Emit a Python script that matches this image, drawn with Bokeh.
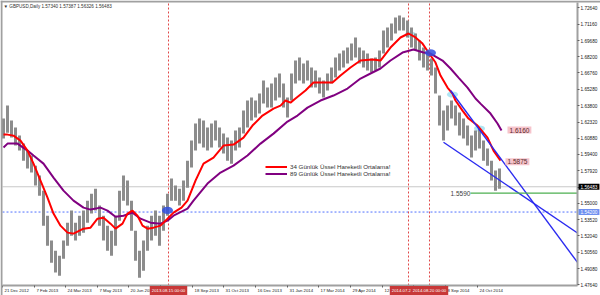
import numpy as np
from bokeh.plotting import figure
from bokeh.models import (Range1d, FixedTicker, PrintfTickFormatter, Span, Label,
                          Legend, LegendItem, LinearAxis)
from bokeh.core.properties import value
from bokeh.embed import file_html
from bokeh.resources import INLINE

FONT = "Liberation Sans"

# ---------------- data ----------------
# sampled price bars, every 4 trading days; bar index 0 = 21 Dec 2012
bar_high = [1.6264, 1.6381, 1.6246, 1.6183, 1.6110, 1.6038, 1.5975, 1.5930, 1.5839, 1.5749,
            1.5613, 1.5387, 1.5162, 1.5071, 1.5026, 1.5162, 1.5324, 1.5433, 1.5324, 1.5387,
            1.5433, 1.5523, 1.5586, 1.5631, 1.5478, 1.5387, 1.5297, 1.5252, 1.5387, 1.5613,
            1.5749, 1.5704, 1.5523, 1.5252, 1.5071, 1.5162, 1.5297, 1.5387, 1.5433, 1.5387,
            1.5478, 1.5586, 1.5722, 1.5659, 1.5631, 1.5704, 1.5884, 1.6065, 1.6219, 1.6264,
            1.6246, 1.6183, 1.6219, 1.6246, 1.6183, 1.6128, 1.6092, 1.6065, 1.6156, 1.6183,
            1.6336, 1.6427, 1.6454, 1.6427, 1.6490, 1.6607, 1.6544, 1.6580, 1.6634, 1.6670,
            1.6580, 1.6454, 1.6670, 1.6788, 1.6815, 1.6761, 1.6788, 1.6725, 1.6698, 1.6634,
            1.6607, 1.6670, 1.6725, 1.6815, 1.6851, 1.6878, 1.6905, 1.6941, 1.6996, 1.6905,
            1.6878, 1.6851, 1.6806, 1.6815, 1.6878, 1.7059, 1.7086, 1.7122, 1.7176, 1.7194,
            1.7176, 1.7149, 1.7086, 1.7032, 1.6969, 1.6905, 1.6851, 1.6806, 1.6725, 1.6472,
            1.6336, 1.6381, 1.6427, 1.6381, 1.6318, 1.6264, 1.6201, 1.6110, 1.6156, 1.6174,
            1.6065, 1.5993, 1.5884, 1.5794, 1.5812]
bar_low = [1.6083, 1.6137, 1.6092, 1.6020, 1.5975, 1.5884, 1.5812, 1.5776, 1.5659, 1.5568,
           1.5297, 1.5116, 1.4963, 1.4873, 1.4845, 1.4999, 1.5116, 1.5207, 1.5162, 1.5207,
           1.5234, 1.5324, 1.5406, 1.5433, 1.5297, 1.5162, 1.5071, 1.5026, 1.5116, 1.5342,
           1.5523, 1.5478, 1.5252, 1.4981, 1.4827, 1.4891, 1.5071, 1.5162, 1.5207, 1.5116,
           1.5252, 1.5387, 1.5523, 1.5523, 1.5478, 1.5523, 1.5640, 1.5821, 1.5975, 1.6038,
           1.6002, 1.5975, 1.6002, 1.6065, 1.6002, 1.5948, 1.5884, 1.5857, 1.5975, 1.6002,
           1.6128, 1.6183, 1.6246, 1.6273, 1.6309, 1.6399, 1.6363, 1.6363, 1.6427, 1.6454,
           1.6363, 1.6273, 1.6427, 1.6580, 1.6607, 1.6580, 1.6607, 1.6544, 1.6544, 1.6490,
           1.6454, 1.6517, 1.6580, 1.6634, 1.6698, 1.6725, 1.6761, 1.6788, 1.6815, 1.6761,
           1.6725, 1.6698, 1.6680, 1.6698, 1.6725, 1.6851, 1.6905, 1.6969, 1.7032, 1.7059,
           1.7059, 1.6996, 1.6905, 1.6878, 1.6788, 1.6725, 1.6698, 1.6652, 1.6490, 1.6201,
           1.6065, 1.6156, 1.6264, 1.6201, 1.6110, 1.6083, 1.6020, 1.5912, 1.5975, 1.5993,
           1.5884, 1.5839, 1.5704, 1.5613, 1.5631]
bar_index = list(range(1, 1 + 4 * len(bar_high), 4))

ema34_idx = [1, 5, 11, 18, 25, 31, 38, 45, 51, 58, 65, 71, 81, 88, 95, 101, 108, 113, 120, 125,
             130, 135, 140, 145, 151, 158, 165, 171, 179, 185, 193, 201, 211, 221, 231, 241, 250,
             260, 271, 278, 283, 288, 293, 303, 311, 321, 330, 338, 348, 358, 370, 378, 388, 398,
             406, 413, 420, 426, 433, 438, 445, 450, 453, 460, 466, 475, 485, 491, 498]
ema34 = [1.6119, 1.6119, 1.6110, 1.6065, 1.5975, 1.5857, 1.5704, 1.5550, 1.5406, 1.5297,
         1.5234, 1.5225, 1.5270, 1.5279, 1.5360, 1.5369, 1.5315, 1.5270, 1.5315, 1.5406,
         1.5433, 1.5387, 1.5297, 1.5270, 1.5279, 1.5297, 1.5360, 1.5415, 1.5460, 1.5523,
         1.5704, 1.5857, 1.5912, 1.6020, 1.6029, 1.6092, 1.6201, 1.6291, 1.6354, 1.6381,
         1.6427, 1.6408, 1.6445, 1.6517, 1.6589, 1.6589, 1.6589, 1.6652, 1.6725, 1.6788,
         1.6797, 1.6788, 1.6905, 1.6996, 1.7032, 1.6996, 1.6941, 1.6860, 1.6770, 1.6652,
         1.6544, 1.6490, 1.6427, 1.6336, 1.6264, 1.6201, 1.6092, 1.5975, 1.5884]

ema89_idx = [1, 5, 15, 25, 31, 41, 51, 61, 71, 81, 88, 98, 105, 113, 121, 130, 138, 148, 158,
             165, 171, 185, 191, 205, 218, 231, 245, 258, 271, 285, 295, 305, 318, 331, 345, 358,
             370, 378, 388, 400, 411, 421, 428, 440, 448, 456, 465, 473, 478, 488, 495, 499]
ema89 = [1.6002, 1.6038, 1.6038, 1.5975, 1.5930, 1.5857, 1.5731, 1.5613, 1.5523, 1.5460,
         1.5442, 1.5460, 1.5433, 1.5378, 1.5387, 1.5415, 1.5360, 1.5324, 1.5315, 1.5342,
         1.5387, 1.5451, 1.5523, 1.5677, 1.5776, 1.5839, 1.5930, 1.6038, 1.6128, 1.6237,
         1.6291, 1.6363, 1.6427, 1.6472, 1.6535, 1.6625, 1.6680, 1.6716, 1.6788, 1.6860,
         1.6887, 1.6860, 1.6851, 1.6788, 1.6716, 1.6634, 1.6544, 1.6445, 1.6399, 1.6309,
         1.6219, 1.6156]

y_ticks = [1.72640, 1.71160, 1.69680, 1.68200, 1.66760, 1.65280, 1.63800, 1.62320, 1.60880,
           1.59400, 1.57920, 1.56440, 1.55000, 1.53520, 1.52040, 1.50560, 1.49080, 1.47640]
x_ticks = [0, 32, 63, 95, 126, 158, 190, 221, 253, 285, 316, 348, 380, 411, 443, 475]
x_tick_labels = ["21 Dec 2012", "7 Feb 2013", "24 Mar 2013", "7 May 2013", "20 Jun 2013",
                 "2 Aug 2013", "18 Sep 2013", "31 Oct 2013", "16 Dec 2013", "31 Jan 2014",
                 "17 Mar 2014", "29 Apr 2014", "12 Jun 2014", "25 Jul 2014", "8 Sep 2014",
                 "24 Oct 2014"]

vline_idx = [166, 406, 427]
vline_text = ["2013.08.15 00:00", "2014.07.22 00:00", "2014.08.20 00:00"]

bid_price = 1.56483
level_blue = 1.54200
level_green = 1.5590
level_green_start = 468
label_1 = (505, 1.6160)
label_2 = (503, 1.5875)

trend_a = ([448, 575], [1.6517, 1.4965])
trend_b = ([441, 575], [1.6050, 1.5231])

dark_ell_x = [165, 428]
dark_ell_y = [1.5435, 1.6858]
light_ell_x = [408, 450, 477]
light_ell_y = [1.7023, 1.6481, 1.6174]

title_text = "\u25bc GBPUSD,Daily  1.57340 1.57387 1.56326 1.56483"

# ---------------- layout geometry ----------------
W, H = 600, 295
BL, BT, BR, BB = 2, 2, 23, 10           # chart window margins (px)
PX0, PX1 = 0, 575                        # bar-index span of the price area
PY0, PY1 = 1.47567, 1.73119              # price span of the price area
KX = (PX1 - PX0) / (W - BL - BR)         # index per px
KY = (PY1 - PY0) / (H - BT - BB)         # price per px

p = figure(width=W, height=H, output_backend="svg", toolbar_location=None,
           x_range=Range1d(PX0 - BL * KX, PX1 + BR * KX),
           y_range=Range1d(PY0 - BB * KY, PY1 + BT * KY),
           x_axis_location=None, y_axis_location=None,
           min_border=0, min_border_left=0, min_border_right=0,
           min_border_top=0, min_border_bottom=0)
p.background_fill_color = "white"
p.border_fill_color = "white"
p.outline_line_color = None
p.xgrid.visible = False
p.ygrid.visible = False

# price axis (right side of the price area)
ya = LinearAxis(fixed_location=PX1, bounds=(PY0, PY1))
ya.ticker = FixedTicker(ticks=y_ticks)
ya.formatter = PrintfTickFormatter(format="%.5f")
ya.axis_line_color = "#a0a0a0"
ya.axis_line_width = 2
ya.major_tick_in = 0
ya.major_tick_out = 2
ya.major_tick_line_color = "#606060"
ya.minor_tick_line_color = None
ya.major_label_standoff = 1
ya.major_label_text_font = FONT
ya.major_label_text_font_size = "4.7px"
ya.major_label_text_color = "#202020"
p.add_layout(ya, "right")

# time axis (bottom of the price area); labels are left aligned like the terminal
xa = LinearAxis(fixed_location=PY0, bounds=(PX0, PX1))
xa.ticker = FixedTicker(ticks=x_ticks)
xa.major_label_overrides = {t: "" for t in x_ticks}
xa.axis_line_color = "#a0a0a0"
xa.axis_line_width = 2
xa.major_tick_in = 0
xa.major_tick_out = 2
xa.major_tick_line_color = "#606060"
xa.minor_tick_line_color = None
xa.major_label_text_font_size = "4px"
p.add_layout(xa, "below")

# window border (left / top)
p.add_layout(Span(location=PX0 - 1 * KX, dimension="height", line_color="#a0a0a0", line_width=2))
p.add_layout(Span(location=PY1 + 1 * KY, dimension="width", line_color="#a0a0a0", line_width=2))

label_y = PY0 - 5 * KY
for t, lab in zip(x_ticks, x_tick_labels):
    p.add_layout(Label(x=t, y=label_y, x_offset=2, text=lab,
                       text_align="left", text_baseline="middle", text_font=FONT,
                       text_font_size="4.3px", text_color="#202020"))

# horizontal levels
p.segment(x0=[PX0], y0=[bid_price], x1=[PX1], y1=[bid_price], line_color="#c8c8c8", line_width=1)
p.segment(x0=[PX0], y0=[level_blue], x1=[PX1], y1=[level_blue], line_color="#5070ff",
          line_width=1, line_dash="2 2")

# vertical lines
p.segment(x0=vline_idx, y0=[PY0] * 3, x1=vline_idx, y1=[PY1] * 3, line_color="#e04848",
          line_width=1, line_dash="2 2")

# light ellipses (behind)
p.ellipse(x=light_ell_x, y=light_ell_y, width=11, height=0.0055, fill_color="#a6e2f2",
          line_color=None, fill_alpha=0.9)

# price bars
p.segment(x0=bar_index, y0=bar_low, x1=bar_index, y1=bar_high, line_color="#8c8c8c",
          line_width=3)

# moving averages
r89 = p.line(ema89_idx, ema89, line_color="#800080", line_width=2)
r34 = p.line(ema34_idx, ema34, line_color="#ff0000", line_width=2)

# trend lines
p.line(trend_a[0], trend_a[1], line_color="#2a2af0", line_width=1.4)
p.line(trend_b[0], trend_b[1], line_color="#2a2af0", line_width=1.4)

# green level
p.segment(x0=[level_green_start], y0=[level_green], x1=[PX1], y1=[level_green],
          line_color="#4caf50", line_width=1.2)

# dark ellipses (crossovers)
p.ellipse(x=dark_ell_x, y=dark_ell_y, width=11, height=0.0065, fill_color="#3050e0",
          line_color=None, fill_alpha=0.85)

# price text labels
p.add_layout(Label(x=label_1[0], y=label_1[1], text="1.6160", text_baseline="middle",
                   text_font=FONT, text_font_size="6.5px", text_color="#5a2a2a",
                   background_fill_color="#f6c4cc", padding=(2, 1)))
p.add_layout(Label(x=label_2[0], y=label_2[1], text="1.5875", text_baseline="middle",
                   text_font=FONT, text_font_size="6.5px", text_color="#5a2a2a",
                   background_fill_color="#f6c4cc", padding=(2, 1)))
p.add_layout(Label(x=448, y=level_green, text="1.5590", text_baseline="middle",
                   text_font=FONT, text_font_size="6.5px", text_color="#404040"))

# axis value boxes
p.add_layout(Label(x=PX1, y=bid_price, x_offset=1, text="1.56483", text_baseline="middle",
                   text_font=FONT, text_font_size="4.7px", text_color="white",
                   background_fill_color="#000000", padding=(2, 1)))
p.add_layout(Label(x=PX1, y=level_blue, x_offset=1, text="1.54200", text_baseline="middle",
                   text_font=FONT, text_font_size="4.7px", text_color="white",
                   background_fill_color="#6f8ff0", padding=(2, 1)))

# vertical line date boxes on time axis
for vx, vt in zip(vline_idx, vline_text):
    p.add_layout(Label(x=vx, y=label_y, text=vt,
                       text_align="center", text_baseline="middle", text_font=FONT,
                       text_font_size="4.3px", text_color="white",
                       background_fill_color="#c83838", padding=(2, 2)))

# title
p.add_layout(Label(x=PX0, y=PY1 - 3.5 * KY, x_offset=1, text=title_text,
                   text_baseline="middle", text_font=FONT, text_font_size="4.6px",
                   text_color="#303030"))

# legend
legend = Legend(items=[LegendItem(label=value("34 Günlük Üssel Hareketli Ortalama!"), renderers=[r34]),
                       LegendItem(label=value("89 Günlük Üssel Hareketli Ortalama!"), renderers=[r89])],
                location=(265, 118), orientation="vertical",
                background_fill_alpha=0, border_line_color=None,
                label_text_font=FONT, label_text_font_size="6.2px", label_text_color="#303030",
                glyph_width=22, glyph_height=7, label_height=7, label_standoff=3,
                spacing=0, padding=0, margin=0)
p.add_layout(legend)

open("out.html", "w").write(file_html(p, INLINE))
